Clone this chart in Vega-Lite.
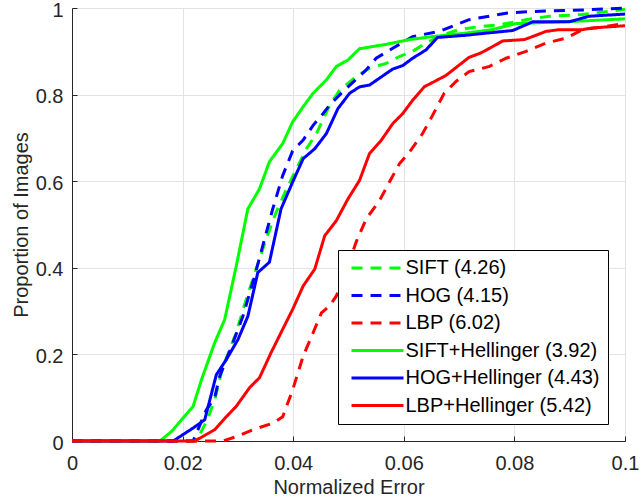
{
  "$schema": "https://vega.github.io/schema/vega-lite/v6.json",
  "width": 553,
  "height": 433,
  "autosize": {"type": "none"},
  "padding": {"left": 72, "top": 8, "right": 19, "bottom": 59},
  "background": "white",
  "config": {
    "font": "Liberation Sans",
    "view": {"stroke": null},
    "axis": {
      "domainColor": "#262626",
      "domainWidth": 1,
      "tickColor": "#262626",
      "tickSize": -5,
      "labelFontSize": 20,
      "labelColor": "#262626",
      "titleFontSize": 20,
      "titleFontWeight": "normal",
      "titleColor": "#262626",
      "gridColor": "#e3e3e3",
      "gridWidth": 1
    },
    "legend": {
      "orient": "bottom-right",
      "offset": 17,
      "padding": 8,
      "strokeColor": "black",
      "fillColor": "white",
      "labelFontSize": 20,
      "labelColor": "black",
      "labelLimit": 300,
      "labelOffset": 18,
      "symbolType": "M-5.2,0H5.2",
      "symbolSize": 100,
      "symbolOffset": 21.5,
      "symbolStrokeWidth": 3,
      "rowPadding": 7.5,
      "title": null
    }
  },
  "data": {
    "values": [
      {"s": "SIFT (4.26)", "x": 0, "y": 0},
      {"s": "SIFT (4.26)", "x": 0.0225, "y": 0},
      {"s": "SIFT (4.26)", "x": 0.0245, "y": 0.05},
      {"s": "SIFT (4.26)", "x": 0.0258, "y": 0.095},
      {"s": "SIFT (4.26)", "x": 0.0273, "y": 0.172},
      {"s": "SIFT (4.26)", "x": 0.0297, "y": 0.25},
      {"s": "SIFT (4.26)", "x": 0.0315, "y": 0.327},
      {"s": "SIFT (4.26)", "x": 0.0333, "y": 0.397},
      {"s": "SIFT (4.26)", "x": 0.0351, "y": 0.466},
      {"s": "SIFT (4.26)", "x": 0.0369, "y": 0.528},
      {"s": "SIFT (4.26)", "x": 0.0388, "y": 0.582},
      {"s": "SIFT (4.26)", "x": 0.0406, "y": 0.629},
      {"s": "SIFT (4.26)", "x": 0.0424, "y": 0.675},
      {"s": "SIFT (4.26)", "x": 0.0442, "y": 0.71},
      {"s": "SIFT (4.26)", "x": 0.0466, "y": 0.776},
      {"s": "SIFT (4.26)", "x": 0.0484, "y": 0.81},
      {"s": "SIFT (4.26)", "x": 0.0514, "y": 0.842},
      {"s": "SIFT (4.26)", "x": 0.0538, "y": 0.861},
      {"s": "SIFT (4.26)", "x": 0.0568, "y": 0.872},
      {"s": "SIFT (4.26)", "x": 0.0592, "y": 0.888},
      {"s": "SIFT (4.26)", "x": 0.0616, "y": 0.9},
      {"s": "SIFT (4.26)", "x": 0.064, "y": 0.919},
      {"s": "SIFT (4.26)", "x": 0.067, "y": 0.938},
      {"s": "SIFT (4.26)", "x": 0.07, "y": 0.95},
      {"s": "SIFT (4.26)", "x": 0.0736, "y": 0.957},
      {"s": "SIFT (4.26)", "x": 0.0773, "y": 0.961},
      {"s": "SIFT (4.26)", "x": 0.0821, "y": 0.973},
      {"s": "SIFT (4.26)", "x": 0.0863, "y": 0.981},
      {"s": "SIFT (4.26)", "x": 0.0922, "y": 0.985},
      {"s": "SIFT (4.26)", "x": 0.1, "y": 0.997},

      {"s": "HOG (4.15)", "x": 0, "y": 0},
      {"s": "HOG (4.15)", "x": 0.0219, "y": 0},
      {"s": "HOG (4.15)", "x": 0.0225, "y": 0.018},
      {"s": "HOG (4.15)", "x": 0.0243, "y": 0.072},
      {"s": "HOG (4.15)", "x": 0.0258, "y": 0.1},
      {"s": "HOG (4.15)", "x": 0.0267, "y": 0.149},
      {"s": "HOG (4.15)", "x": 0.0291, "y": 0.227},
      {"s": "HOG (4.15)", "x": 0.0309, "y": 0.288},
      {"s": "HOG (4.15)", "x": 0.0327, "y": 0.366},
      {"s": "HOG (4.15)", "x": 0.0345, "y": 0.451},
      {"s": "HOG (4.15)", "x": 0.0363, "y": 0.536},
      {"s": "HOG (4.15)", "x": 0.0381, "y": 0.613},
      {"s": "HOG (4.15)", "x": 0.0399, "y": 0.67},
      {"s": "HOG (4.15)", "x": 0.0418, "y": 0.695},
      {"s": "HOG (4.15)", "x": 0.0436, "y": 0.729},
      {"s": "HOG (4.15)", "x": 0.0454, "y": 0.756},
      {"s": "HOG (4.15)", "x": 0.0466, "y": 0.776},
      {"s": "HOG (4.15)", "x": 0.049, "y": 0.807},
      {"s": "HOG (4.15)", "x": 0.0532, "y": 0.857},
      {"s": "HOG (4.15)", "x": 0.055, "y": 0.884},
      {"s": "HOG (4.15)", "x": 0.058, "y": 0.907},
      {"s": "HOG (4.15)", "x": 0.0616, "y": 0.934},
      {"s": "HOG (4.15)", "x": 0.0664, "y": 0.946},
      {"s": "HOG (4.15)", "x": 0.0718, "y": 0.973},
      {"s": "HOG (4.15)", "x": 0.0785, "y": 0.988},
      {"s": "HOG (4.15)", "x": 0.0832, "y": 0.992},
      {"s": "HOG (4.15)", "x": 0.0935, "y": 0.996},
      {"s": "HOG (4.15)", "x": 0.1, "y": 1.0},

      {"s": "LBP (6.02)", "x": 0, "y": 0},
      {"s": "LBP (6.02)", "x": 0.0273, "y": 0},
      {"s": "LBP (6.02)", "x": 0.0297, "y": 0.01},
      {"s": "LBP (6.02)", "x": 0.0327, "y": 0.026},
      {"s": "LBP (6.02)", "x": 0.0363, "y": 0.041},
      {"s": "LBP (6.02)", "x": 0.0381, "y": 0.056},
      {"s": "LBP (6.02)", "x": 0.0399, "y": 0.118},
      {"s": "LBP (6.02)", "x": 0.0418, "y": 0.196},
      {"s": "LBP (6.02)", "x": 0.0436, "y": 0.25},
      {"s": "LBP (6.02)", "x": 0.0451, "y": 0.296},
      {"s": "LBP (6.02)", "x": 0.0466, "y": 0.312},
      {"s": "LBP (6.02)", "x": 0.0478, "y": 0.335},
      {"s": "LBP (6.02)", "x": 0.0495, "y": 0.39},
      {"s": "LBP (6.02)", "x": 0.0514, "y": 0.46},
      {"s": "LBP (6.02)", "x": 0.0532, "y": 0.513},
      {"s": "LBP (6.02)", "x": 0.0556, "y": 0.555},
      {"s": "LBP (6.02)", "x": 0.0574, "y": 0.598},
      {"s": "LBP (6.02)", "x": 0.0592, "y": 0.64},
      {"s": "LBP (6.02)", "x": 0.061, "y": 0.667},
      {"s": "LBP (6.02)", "x": 0.0634, "y": 0.71},
      {"s": "LBP (6.02)", "x": 0.0652, "y": 0.752},
      {"s": "LBP (6.02)", "x": 0.0673, "y": 0.803},
      {"s": "LBP (6.02)", "x": 0.0694, "y": 0.83},
      {"s": "LBP (6.02)", "x": 0.0718, "y": 0.853},
      {"s": "LBP (6.02)", "x": 0.0755, "y": 0.865},
      {"s": "LBP (6.02)", "x": 0.0785, "y": 0.884},
      {"s": "LBP (6.02)", "x": 0.0821, "y": 0.9},
      {"s": "LBP (6.02)", "x": 0.0857, "y": 0.919},
      {"s": "LBP (6.02)", "x": 0.0893, "y": 0.93},
      {"s": "LBP (6.02)", "x": 0.0923, "y": 0.95},
      {"s": "LBP (6.02)", "x": 0.0965, "y": 0.957},
      {"s": "LBP (6.02)", "x": 0.1, "y": 0.965},

      {"s": "SIFT+Hellinger (3.92)", "x": 0, "y": 0},
      {"s": "SIFT+Hellinger (3.92)", "x": 0.0159, "y": 0},
      {"s": "SIFT+Hellinger (3.92)", "x": 0.018, "y": 0.022},
      {"s": "SIFT+Hellinger (3.92)", "x": 0.0219, "y": 0.08},
      {"s": "SIFT+Hellinger (3.92)", "x": 0.0234, "y": 0.141},
      {"s": "SIFT+Hellinger (3.92)", "x": 0.0258, "y": 0.227},
      {"s": "SIFT+Hellinger (3.92)", "x": 0.0276, "y": 0.28},
      {"s": "SIFT+Hellinger (3.92)", "x": 0.0297, "y": 0.404},
      {"s": "SIFT+Hellinger (3.92)", "x": 0.0318, "y": 0.536},
      {"s": "SIFT+Hellinger (3.92)", "x": 0.0339, "y": 0.582},
      {"s": "SIFT+Hellinger (3.92)", "x": 0.0357, "y": 0.645},
      {"s": "SIFT+Hellinger (3.92)", "x": 0.0381, "y": 0.687},
      {"s": "SIFT+Hellinger (3.92)", "x": 0.0399, "y": 0.737},
      {"s": "SIFT+Hellinger (3.92)", "x": 0.0418, "y": 0.772},
      {"s": "SIFT+Hellinger (3.92)", "x": 0.0436, "y": 0.803},
      {"s": "SIFT+Hellinger (3.92)", "x": 0.046, "y": 0.834},
      {"s": "SIFT+Hellinger (3.92)", "x": 0.0478, "y": 0.865},
      {"s": "SIFT+Hellinger (3.92)", "x": 0.0499, "y": 0.88},
      {"s": "SIFT+Hellinger (3.92)", "x": 0.052, "y": 0.906},
      {"s": "SIFT+Hellinger (3.92)", "x": 0.0568, "y": 0.916},
      {"s": "SIFT+Hellinger (3.92)", "x": 0.061, "y": 0.927},
      {"s": "SIFT+Hellinger (3.92)", "x": 0.0652, "y": 0.934},
      {"s": "SIFT+Hellinger (3.92)", "x": 0.0712, "y": 0.942},
      {"s": "SIFT+Hellinger (3.92)", "x": 0.076, "y": 0.95},
      {"s": "SIFT+Hellinger (3.92)", "x": 0.0803, "y": 0.964},
      {"s": "SIFT+Hellinger (3.92)", "x": 0.0863, "y": 0.967},
      {"s": "SIFT+Hellinger (3.92)", "x": 0.0922, "y": 0.97},
      {"s": "SIFT+Hellinger (3.92)", "x": 0.1, "y": 0.975},

      {"s": "HOG+Hellinger (4.43)", "x": 0, "y": 0},
      {"s": "HOG+Hellinger (4.43)", "x": 0.0183, "y": 0},
      {"s": "HOG+Hellinger (4.43)", "x": 0.0219, "y": 0.03},
      {"s": "HOG+Hellinger (4.43)", "x": 0.024, "y": 0.049},
      {"s": "HOG+Hellinger (4.43)", "x": 0.0261, "y": 0.153},
      {"s": "HOG+Hellinger (4.43)", "x": 0.0279, "y": 0.188},
      {"s": "HOG+Hellinger (4.43)", "x": 0.03, "y": 0.234},
      {"s": "HOG+Hellinger (4.43)", "x": 0.0318, "y": 0.288},
      {"s": "HOG+Hellinger (4.43)", "x": 0.0336, "y": 0.389},
      {"s": "HOG+Hellinger (4.43)", "x": 0.0357, "y": 0.413},
      {"s": "HOG+Hellinger (4.43)", "x": 0.0378, "y": 0.536},
      {"s": "HOG+Hellinger (4.43)", "x": 0.0399, "y": 0.598},
      {"s": "HOG+Hellinger (4.43)", "x": 0.0418, "y": 0.652},
      {"s": "HOG+Hellinger (4.43)", "x": 0.0439, "y": 0.675},
      {"s": "HOG+Hellinger (4.43)", "x": 0.046, "y": 0.71},
      {"s": "HOG+Hellinger (4.43)", "x": 0.0481, "y": 0.768},
      {"s": "HOG+Hellinger (4.43)", "x": 0.0502, "y": 0.803},
      {"s": "HOG+Hellinger (4.43)", "x": 0.052, "y": 0.818},
      {"s": "HOG+Hellinger (4.43)", "x": 0.0538, "y": 0.822},
      {"s": "HOG+Hellinger (4.43)", "x": 0.0556, "y": 0.838},
      {"s": "HOG+Hellinger (4.43)", "x": 0.058, "y": 0.859},
      {"s": "HOG+Hellinger (4.43)", "x": 0.0598, "y": 0.867},
      {"s": "HOG+Hellinger (4.43)", "x": 0.0616, "y": 0.884},
      {"s": "HOG+Hellinger (4.43)", "x": 0.064, "y": 0.903},
      {"s": "HOG+Hellinger (4.43)", "x": 0.0661, "y": 0.932},
      {"s": "HOG+Hellinger (4.43)", "x": 0.0712, "y": 0.937},
      {"s": "HOG+Hellinger (4.43)", "x": 0.0749, "y": 0.942},
      {"s": "HOG+Hellinger (4.43)", "x": 0.0797, "y": 0.948},
      {"s": "HOG+Hellinger (4.43)", "x": 0.0833, "y": 0.968},
      {"s": "HOG+Hellinger (4.43)", "x": 0.0899, "y": 0.968},
      {"s": "HOG+Hellinger (4.43)", "x": 0.0935, "y": 0.981},
      {"s": "HOG+Hellinger (4.43)", "x": 0.1, "y": 0.986},

      {"s": "LBP+Hellinger (5.42)", "x": 0, "y": 0},
      {"s": "LBP+Hellinger (5.42)", "x": 0.0222, "y": 0},
      {"s": "LBP+Hellinger (5.42)", "x": 0.0258, "y": 0.026},
      {"s": "LBP+Hellinger (5.42)", "x": 0.0279, "y": 0.056},
      {"s": "LBP+Hellinger (5.42)", "x": 0.0297, "y": 0.08},
      {"s": "LBP+Hellinger (5.42)", "x": 0.0321, "y": 0.123},
      {"s": "LBP+Hellinger (5.42)", "x": 0.0339, "y": 0.146},
      {"s": "LBP+Hellinger (5.42)", "x": 0.036, "y": 0.204},
      {"s": "LBP+Hellinger (5.42)", "x": 0.0381, "y": 0.258},
      {"s": "LBP+Hellinger (5.42)", "x": 0.0399, "y": 0.304},
      {"s": "LBP+Hellinger (5.42)", "x": 0.0418, "y": 0.358},
      {"s": "LBP+Hellinger (5.42)", "x": 0.0439, "y": 0.397},
      {"s": "LBP+Hellinger (5.42)", "x": 0.0457, "y": 0.474},
      {"s": "LBP+Hellinger (5.42)", "x": 0.0478, "y": 0.509},
      {"s": "LBP+Hellinger (5.42)", "x": 0.0499, "y": 0.559},
      {"s": "LBP+Hellinger (5.42)", "x": 0.052, "y": 0.602},
      {"s": "LBP+Hellinger (5.42)", "x": 0.0538, "y": 0.664},
      {"s": "LBP+Hellinger (5.42)", "x": 0.0559, "y": 0.694},
      {"s": "LBP+Hellinger (5.42)", "x": 0.058, "y": 0.733},
      {"s": "LBP+Hellinger (5.42)", "x": 0.0598, "y": 0.756},
      {"s": "LBP+Hellinger (5.42)", "x": 0.0616, "y": 0.787},
      {"s": "LBP+Hellinger (5.42)", "x": 0.0637, "y": 0.818},
      {"s": "LBP+Hellinger (5.42)", "x": 0.0676, "y": 0.844},
      {"s": "LBP+Hellinger (5.42)", "x": 0.07, "y": 0.868},
      {"s": "LBP+Hellinger (5.42)", "x": 0.0718, "y": 0.886},
      {"s": "LBP+Hellinger (5.42)", "x": 0.0739, "y": 0.896},
      {"s": "LBP+Hellinger (5.42)", "x": 0.0758, "y": 0.909},
      {"s": "LBP+Hellinger (5.42)", "x": 0.0779, "y": 0.924},
      {"s": "LBP+Hellinger (5.42)", "x": 0.0818, "y": 0.927},
      {"s": "LBP+Hellinger (5.42)", "x": 0.0839, "y": 0.937},
      {"s": "LBP+Hellinger (5.42)", "x": 0.0857, "y": 0.946},
      {"s": "LBP+Hellinger (5.42)", "x": 0.0881, "y": 0.95},
      {"s": "LBP+Hellinger (5.42)", "x": 0.0923, "y": 0.95},
      {"s": "LBP+Hellinger (5.42)", "x": 0.0941, "y": 0.954},
      {"s": "LBP+Hellinger (5.42)", "x": 0.1, "y": 0.959}
    ]
  },
  "mark": {"type": "line", "strokeWidth": 3, "strokeCap": "butt", "strokeJoin": "miter"},
  "encoding": {
    "x": {
      "field": "x",
      "type": "quantitative",
      "scale": {"domain": [0, 0.1], "nice": false, "zero": false},
      "axis": {
        "title": "Normalized Error",
        "values": [0, 0.02, 0.04, 0.06, 0.08, 0.1],
        "format": "~g",
        "labelPadding": 17,
        "titlePadding": 4,
        "labelFlush": false
      }
    },
    "y": {
      "field": "y",
      "type": "quantitative",
      "scale": {"domain": [0, 1], "nice": false},
      "axis": {
        "title": "Proportion of Images",
        "values": [0, 0.2, 0.4, 0.6, 0.8, 1],
        "format": "~g",
        "labelPadding": 14,
        "labelOffset": 2,
        "titlePadding": 4,
        "labelFlush": false
      }
    },
    "color": {
      "field": "s",
      "type": "nominal",
      "sort": null,
      "scale": {
        "domain": ["SIFT (4.26)", "HOG (4.15)", "LBP (6.02)", "SIFT+Hellinger (3.92)", "HOG+Hellinger (4.43)", "LBP+Hellinger (5.42)"],
        "range": ["#00ff00", "#0000ff", "#ff0000", "#00ff00", "#0000ff", "#ff0000"]
      }
    },
    "strokeDash": {
      "field": "s",
      "type": "nominal",
      "sort": null,
      "scale": {
        "domain": ["SIFT (4.26)", "HOG (4.15)", "LBP (6.02)", "SIFT+Hellinger (3.92)", "HOG+Hellinger (4.43)", "LBP+Hellinger (5.42)"],
        "range": [[11, 8], [11, 8], [11, 8], [1, 0], [1, 0], [1, 0]]
      }
    }
  }
}
